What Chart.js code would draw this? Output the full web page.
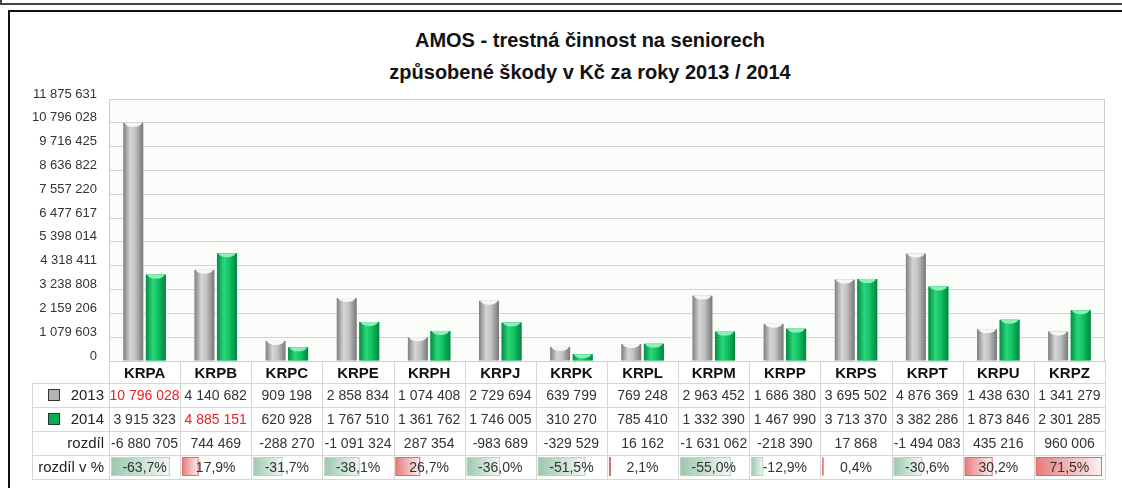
<!DOCTYPE html>
<html>
<head>
<meta charset="utf-8">
<script src="https://cdn.jsdelivr.net/npm/chart.js@4.4.1/dist/chart.umd.min.js"></script>
<style>
  body { margin: 0; background: #fff; }
  #wrap { position: relative; width: 1122px; height: 488px; overflow: hidden; font-family: "Liberation Sans", Arial, sans-serif; }
  .topline { position: absolute; left: 0; top: 0; width: 1122px; height: 3px; border-left: 2px solid #444; border-bottom: 2px solid #444; }
  .frame { position: absolute; left: 8px; top: 10px; right: 0; bottom: -4px; border-top: 2px solid #111; border-left: 2px solid #111; }
  .title { position: absolute; left: 590px; transform: translateX(-50%); white-space: nowrap; font-size: 20px; font-weight: bold; line-height: 24px; color: #111; }
  canvas { position: absolute; left: 0; top: 0; }
</style>
</head>
<body>
<div id="wrap">
  <div class="topline"></div>
  <div class="frame"></div>
  <div class="title" style="top:28px">AMOS - trestná činnost na seniorech</div>
  <div class="title" style="top:60px">způsobené škody v Kč za roky 2013 / 2014</div>
  <canvas id="chart" width="1122" height="488"></canvas>
</div>
<script>
const categories = ['KRPA', 'KRPB', 'KRPC', 'KRPE', 'KRPH', 'KRPJ', 'KRPK', 'KRPL', 'KRPM', 'KRPP', 'KRPS', 'KRPT', 'KRPU', 'KRPZ'];
const seriesNames = ['2013', '2014'];
const values2013 = [10796028, 4140682, 909198, 2858834, 1074408, 2729694, 639799, 769248, 2963452, 1686380, 3695502, 4876369, 1438630, 1341279];
const values2014 = [3915323, 4885151, 620928, 1767510, 1361762, 1746005, 310270, 785410, 1332390, 1467990, 3713370, 3382286, 1873846, 2301285];
const diffValues = [-6880705, 744469, -288270, -1091324, 287354, -983689, -329529, 16162, -1631062, -218390, 17868, -1494083, 435216, 960006];
const diffPercent = [-63.7, 17.9, -31.7, -38.1, 26.7, -36.0, -51.5, 2.1, -55.0, -12.9, 0.4, -30.6, 30.2, 71.5];
const yTicks = [0, 1079603, 2159206, 3238808, 4318411, 5398014, 6477617, 7557220, 8636822, 9716425, 10796028, 11875631];

const FONT = '"Liberation Sans", Arial, sans-serif';
Chart.defaults.font.family = FONT;

// thousands separated with spaces, like the original
const fmt = v => {
  const s = Math.round(Math.abs(v)).toString().replace(/\B(?=(\d{3})+(?!\d))/g, ' ');
  return (v < 0 ? '-' : '') + s;
};
const fmtPct = v => v.toFixed(1).replace('.', ',') + '%';

const barStyles = [
  { stops: [[0, '#7e7e7e'], [0.35, '#d6d6d6'], [0.6, '#c2c2c2'], [1, '#777']], cap: '#f6f6f6' },
  { stops: [[0, '#008c42'], [0.35, '#2cd67a'], [0.6, '#12c464'], [1, '#00843e']], cap: '#8cf0b6' }
];

// plot background + border
const plotBg = {
  id: 'plotBg',
  beforeDraw(chart) {
    const { ctx, chartArea: a } = chart;
    ctx.save();
    ctx.fillStyle = '#fbfdfa';
    ctx.fillRect(a.left, a.top, a.width, a.height);
    ctx.restore();
  },
  beforeDatasetsDraw(chart) {
    const { ctx, chartArea: a } = chart;
    ctx.save();
    ctx.strokeStyle = '#cccccc';
    ctx.lineWidth = 1;
    ctx.strokeRect(a.left + 0.5, a.top + 0.5, a.width - 1, a.height);
    ctx.restore();
  }
};

// cylinder look for the bars
const barLook = {
  id: 'barLook',
  afterDatasetsDraw(chart) {
    const ctx = chart.ctx;
    chart.data.datasets.forEach((ds, di) => {
      const st = barStyles[di];
      chart.getDatasetMeta(di).data.forEach(bar => {
        const { x, y, base, width } = bar.getProps(['x', 'y', 'base', 'width'], true);
        const l = x - width / 2;
        const g = ctx.createLinearGradient(l, 0, l + width, 0);
        st.stops.forEach(([o, c]) => g.addColorStop(o, c));
        ctx.save();
        ctx.beginPath();
        ctx.rect(l, y, width, base - y);
        ctx.clip();
        ctx.fillStyle = g;
        ctx.fillRect(l, y, width, base - y);
        ctx.fillStyle = st.cap;
        ctx.beginPath();
        ctx.ellipse(x, y, width / 2 - 1.5, 4, 0, 0, Math.PI * 2);
        ctx.fill();
        ctx.restore();
      });
    });
  }
};

// data table under the x axis
const dataTable = {
  id: 'dataTable',
  afterDraw(chart) {
    const ctx = chart.ctx;
    const xs = chart.scales.x;
    const n = categories.length;
    const cw = xs.width / n;
    const top = chart.chartArea.bottom;
    const headH = 22, rowH = 24, labelLeft = 32;
    const rowsTop = top + headH;
    const rows = 4;
    ctx.save();
    ctx.strokeStyle = '#d6d6d6';
    ctx.lineWidth = 1;
    ctx.beginPath();
    for (let i = 0; i <= n; i++) {
      const xb = Math.round(xs.left + i * cw) + 0.5;
      ctx.moveTo(xb, top);
      ctx.lineTo(xb, rowsTop + rows * rowH);
    }
    ctx.moveTo(labelLeft + 0.5, rowsTop);
    ctx.lineTo(labelLeft + 0.5, rowsTop + rows * rowH);
    for (let r = 0; r <= rows; r++) {
      const yb = rowsTop + r * rowH + 0.5;
      ctx.moveTo(labelLeft, yb);
      ctx.lineTo(xs.right, yb);
    }
    ctx.stroke();

    // % data bars
    const maxAbs = Math.max(...diffPercent.map(Math.abs));
    const pTop = rowsTop + 3 * rowH;
    diffPercent.forEach((p, i) => {
      const x0 = xs.left + i * cw + 2;
      const w = Math.abs(p) / maxAbs * (cw - 5);
      const y0 = pTop + 2, h = rowH - 5;
      const g = ctx.createLinearGradient(x0, 0, x0 + w, 0);
      if (p < 0) { g.addColorStop(0, '#9dc7ae'); g.addColorStop(1, '#f3f9f5'); }
      else { g.addColorStop(0, '#e67c7c'); g.addColorStop(1, '#fdf1f1'); }
      ctx.fillStyle = g;
      ctx.fillRect(x0, y0, w, h);
      ctx.strokeStyle = p < 0 ? '#b7d5c2' : '#e06a6a';
      ctx.strokeRect(x0 + 0.5, y0 + 0.5, Math.max(w - 1, 0), h - 1);
    });

    // row labels
    ctx.fillStyle = '#222';
    ctx.font = '15px ' + FONT;
    ctx.textAlign = 'right';
    ctx.textBaseline = 'middle';
    const labels = [seriesNames[0], seriesNames[1], 'rozdíl', 'rozdíl v %'];
    labels.forEach((t, r) => ctx.fillText(t, xs.left - 5, rowsTop + r * rowH + rowH / 2 + 1));
    // legend squares
    ['#b3b3b3', '#00b050'].forEach((c, r) => {
      const yc = rowsTop + r * rowH + rowH / 2;
      ctx.fillStyle = c;
      ctx.fillRect(48, yc - 6, 12, 12);
      ctx.strokeStyle = '#333';
      ctx.strokeRect(48.5, yc - 5.5, 11, 11);
    });

    // cell values
    ctx.textAlign = 'center';
    ctx.font = '14px ' + FONT;
    const max13 = Math.max(...values2013), max14 = Math.max(...values2014);
    categories.forEach((c, i) => {
      const xc = xs.getPixelForValue(i);
      const cells = [
        [fmt(values2013[i]), values2013[i] === max13],
        [fmt(values2014[i]), values2014[i] === max14],
        [fmt(diffValues[i]), false],
        [fmtPct(diffPercent[i]), false]
      ];
      cells.forEach(([t, hi], r) => {
        ctx.fillStyle = hi ? '#ee1c24' : '#333';
        ctx.fillText(t, xc, rowsTop + r * rowH + rowH / 2 + 1);
      });
    });
    ctx.restore();
  }
};

new Chart(document.getElementById('chart'), {
  type: 'bar',
  data: {
    labels: categories,
    datasets: [{
      label: seriesNames[0],
      data: values2013,
      backgroundColor: '#b3b3b3',
      categoryPercentage: 0.634,
      barPercentage: 0.89
    }, {
      label: seriesNames[1],
      data: values2014,
      backgroundColor: '#00b050',
      categoryPercentage: 0.634,
      barPercentage: 0.89
    }]
  },
  options: {
    responsive: false,
    animation: false,
    layout: { padding: { left: 0, right: 17, top: 99, bottom: 0 } },
    plugins: {
      legend: { display: false },
      title: { display: false },
      tooltip: { enabled: false }
    },
    scales: {
      x: {
        grid: { display: false },
        border: { display: false },
        ticks: { color: '#111', padding: -4, font: { size: 15, weight: 'bold' } },
        afterFit: s => { s.height = 127; }
      },
      y: {
        min: 0,
        max: yTicks[yTicks.length - 1],
        afterBuildTicks: s => { s.ticks = yTicks.map(v => ({ value: v })); },
        grid: { color: '#d3d3d3', drawTicks: false },
        border: { display: false },
        ticks: { color: '#333', padding: 12, labelOffset: -5, font: { size: 13 }, callback: v => fmt(v) },
        afterFit: s => { s.width = 109; }
      }
    }
  },
  plugins: [plotBg, barLook, dataTable]
});
</script>
</body>
</html>
